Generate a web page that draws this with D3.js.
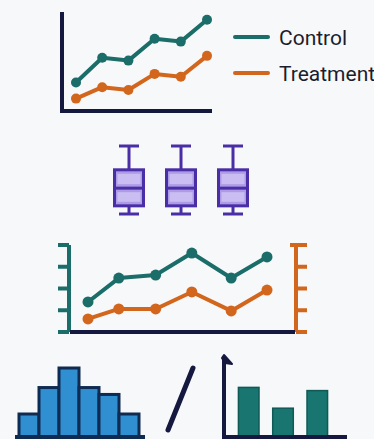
<!DOCTYPE html>
<html>
<head>
<meta charset="utf-8">
<script src="https://cdn.jsdelivr.net/npm/d3@7"></script>
<style>
  html, body { margin: 0; padding: 0; background: #f7f8fa; }
  svg { display: block; }
</style>
</head>
<body>
<svg id="chart" width="374" height="439"></svg>
<script>
// ---------- data ----------
const steps = [0, 1, 2, 3, 4, 5];
const controlValues = [29, 55, 52, 75, 72, 95];
const treatmentValues = [12, 24, 21, 38, 35, 57];
const legendLabels = ["Control", "Treatment"];

const boxGroups = ["A", "B", "C"];
const boxStats = [
  { min: 0, q1: 12, median: 38, q3: 65, max: 100 },
  { min: 0, q1: 12, median: 38, q3: 65, max: 100 },
  { min: 0, q1: 12, median: 38, q3: 65, max: 100 }
];

const dualX = [0, 0.86, 1.89, 2.9, 4, 5];
const dualLeftValues = [1.38, 2.48, 2.62, 3.63, 2.48, 3.45];
const dualRightValues = [0.6, 1.06, 1.06, 1.84, 0.97, 1.93];
const dualTicks = [0, 1, 2, 3, 4];

const histBins = [0, 1, 2, 3, 4, 5];
const histCounts = [2, 4.3, 6, 4.3, 3.7, 2];

const barCategories = ["a", "b", "c"];
const barValues = [3.1, 1.8, 2.9];

// ---------- styles ----------
const TEAL = "#1b6d69", ORANGE = "#d2661d", NAVY = "#151940";
const PURPLE = "#4a2ea6", PURPLE_FILL = "#ad9be6", PURPLE_LIGHT = "#c9bdf2";
const BLUE = "#2f8fd0", BAR_TEAL = "#18756f";

const svg = d3.select("#chart");

// ---------- 1. top line chart ----------
{
  const x = d3.scaleLinear().domain([0, 5]).range([76, 207]);
  const y = d3.scaleLinear().domain([0, 100]).range([110, 15]);
  const g = svg.append("g");
  g.append("path").attr("d", "M62,12 L62,111 L212,111")
    .attr("fill", "none").attr("stroke", NAVY).attr("stroke-width", 4);
  const line = d3.line().x((d, i) => x(steps[i])).y(d => y(d));
  [[treatmentValues, ORANGE], [controlValues, TEAL]].forEach(([vals, col]) => {
    g.append("path").attr("d", line(vals)).attr("fill", "none")
      .attr("stroke", col).attr("stroke-width", 4).attr("stroke-linejoin", "round");
    g.selectAll(null).data(vals).join("circle")
      .attr("cx", (d, i) => x(steps[i])).attr("cy", d => y(d)).attr("r", 5).attr("fill", col);
  });
  // legend
  const legColors = [TEAL, ORANGE];
  legendLabels.forEach((lab, i) => {
    const yy = 37 + i * 36;
    g.append("line").attr("x1", 235).attr("x2", 268).attr("y1", yy).attr("y2", yy)
      .attr("stroke", legColors[i]).attr("stroke-width", 4).attr("stroke-linecap", "round");
    g.append("text").attr("x", 279).attr("y", yy + 8).text(lab)
      .attr("font-family", "Roboto, 'Liberation Sans', sans-serif").attr("font-size", 21)
      .attr("fill", "#1c1d2c");
  });
}

// ---------- 2. box plots ----------
{
  const x = d3.scalePoint().domain(boxGroups).range([129, 233]);
  const y = d3.scaleLinear().domain([0, 100]).range([214, 146]);
  const bw = 29, cw = 20;
  const g = svg.append("g");
  boxStats.forEach((s, i) => {
    const cx = x(boxGroups[i]);
    g.append("line").attr("x1", cx).attr("x2", cx).attr("y1", y(s.max)).attr("y2", y(s.min))
      .attr("stroke", PURPLE).attr("stroke-width", 3);
    [s.max, s.min].forEach(v => g.append("line").attr("x1", cx - cw / 2).attr("x2", cx + cw / 2)
      .attr("y1", y(v)).attr("y2", y(v)).attr("stroke", PURPLE).attr("stroke-width", 3));
    g.append("rect").attr("x", cx - bw / 2).attr("y", y(s.q3)).attr("width", bw)
      .attr("height", y(s.q1) - y(s.q3)).attr("fill", PURPLE_FILL)
      .attr("stroke", PURPLE).attr("stroke-width", 3);
    // lighter inner bands
    g.append("rect").attr("x", cx - bw / 2 + 3).attr("y", y(s.q3) + 4).attr("width", bw - 6)
      .attr("height", (y(s.median) - y(s.q3)) - 8).attr("fill", PURPLE_LIGHT);
    g.append("rect").attr("x", cx - bw / 2 + 3).attr("y", y(s.median) + 4).attr("width", bw - 6)
      .attr("height", (y(s.q1) - y(s.median)) - 8).attr("fill", PURPLE_LIGHT);
    g.append("line").attr("x1", cx - bw / 2).attr("x2", cx + bw / 2)
      .attr("y1", y(s.median)).attr("y2", y(s.median)).attr("stroke", PURPLE).attr("stroke-width", 3);
  });
}

// ---------- 3. dual-axis line chart ----------
{
  const x = d3.scaleLinear().domain([0, 5]).range([88, 267]);
  const yL = d3.scaleLinear().domain([0, 4]).range([332, 245]);
  const yR = d3.scaleLinear().domain([0, 4]).range([332, 245]);
  const g = svg.append("g");
  // left axis
  g.append("line").attr("x1", 69).attr("x2", 69).attr("y1", yL(4)).attr("y2", yL(0))
    .attr("stroke", TEAL).attr("stroke-width", 4);
  g.selectAll(null).data(dualTicks).join("line")
    .attr("x1", 58).attr("x2", 69).attr("y1", d => yL(d)).attr("y2", d => yL(d))
    .attr("stroke", TEAL).attr("stroke-width", 4);
  // right axis
  g.append("line").attr("x1", 296).attr("x2", 296).attr("y1", yR(4)).attr("y2", yR(0))
    .attr("stroke", ORANGE).attr("stroke-width", 4);
  g.selectAll(null).data(dualTicks).join("line")
    .attr("x1", d => d === 4 ? 290 : 296).attr("x2", 307).attr("y1", d => yR(d)).attr("y2", d => yR(d))
    .attr("stroke", ORANGE).attr("stroke-width", 4);
  // x axis
  g.append("line").attr("x1", 70).attr("x2", 295).attr("y1", yL(0)).attr("y2", yL(0))
    .attr("stroke", NAVY).attr("stroke-width", 4);
  const lineL = d3.line().x((d, i) => x(dualX[i])).y(d => yL(d));
  const lineR = d3.line().x((d, i) => x(dualX[i])).y(d => yR(d));
  [[dualRightValues, ORANGE, lineR, yR], [dualLeftValues, TEAL, lineL, yL]].forEach(([vals, col, ln, ys]) => {
    g.append("path").attr("d", ln(vals)).attr("fill", "none")
      .attr("stroke", col).attr("stroke-width", 4).attr("stroke-linejoin", "round");
    g.selectAll(null).data(vals).join("circle")
      .attr("cx", (d, i) => x(dualX[i])).attr("cy", d => ys(d)).attr("r", 5.5).attr("fill", col);
  });
}

// ---------- 4. histogram ----------
{
  const x = d3.scaleBand().domain(histBins).range([19, 139]).paddingInner(0);
  const y = d3.scaleLinear().domain([0, 6]).range([437, 368]);
  const g = svg.append("g");
  g.selectAll(null).data(histCounts).join("rect")
    .attr("x", (d, i) => x(histBins[i])).attr("y", d => y(d))
    .attr("width", x.bandwidth()).attr("height", d => y(0) - y(d) + 4)
    .attr("fill", BLUE).attr("stroke", "#0f2b52").attr("stroke-width", 3);
  g.append("line").attr("x1", 15).attr("x2", 145).attr("y1", 437).attr("y2", 437)
    .attr("stroke", "#0f2b52").attr("stroke-width", 4);
}

// ---------- slash ----------
svg.append("line").attr("x1", 168).attr("y1", 430).attr("x2", 193).attr("y2", 368)
  .attr("stroke", NAVY).attr("stroke-width", 5).attr("stroke-linecap", "round");

// ---------- 5. bar chart ----------
{
  const x = d3.scaleBand().domain(barCategories).range([235, 331]).paddingInner(0.4).paddingOuter(0.1);
  const y = d3.scaleLinear().domain([0, 5]).range([437, 357]);
  const g = svg.append("g");
  g.selectAll(null).data(barValues).join("rect")
    .attr("x", (d, i) => x(barCategories[i])).attr("y", d => y(d))
    .attr("width", x.bandwidth()).attr("height", d => y(0) - y(d))
    .attr("fill", BAR_TEAL).attr("stroke", "#0f5a56").attr("stroke-width", 1.5);
  g.append("line").attr("x1", 224).attr("x2", 224).attr("y1", y(0) + 2).attr("y2", y(5))
    .attr("stroke", NAVY).attr("stroke-width", 4);
  g.append("path").attr("d", `M${224 - 2},${y(5) + 1} L${224},${y(5) - 2} L${232},${y(5) + 7} L${225},${y(5) + 6} Z`)
    .attr("fill", NAVY).attr("stroke", NAVY).attr("stroke-width", 2).attr("stroke-linejoin", "round");
  g.append("line").attr("x1", 222).attr("x2", 347).attr("y1", y(0)).attr("y2", y(0))
    .attr("stroke", NAVY).attr("stroke-width", 4);
}
</script>
</body>
</html>
